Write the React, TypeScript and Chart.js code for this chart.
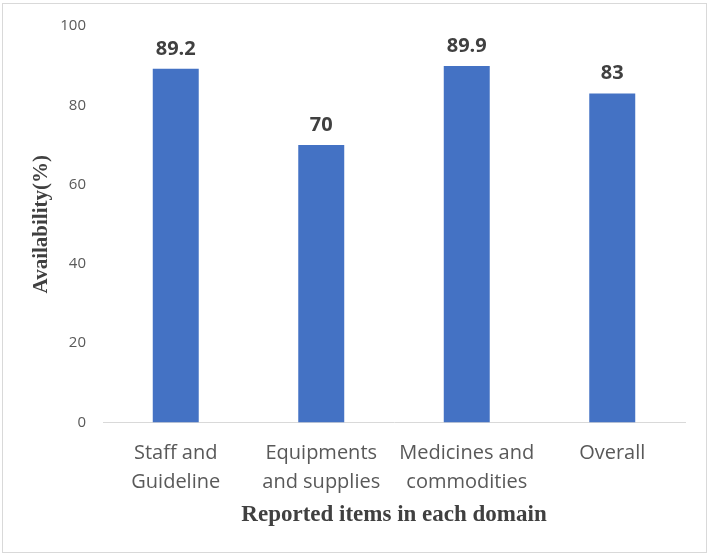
import React, { useEffect, useRef } from "react";
import { Chart, registerables } from "chart.js";

Chart.register(...registerables);

const categories: string[][] = [
  ["Staff and", "Guideline"],
  ["Equipments", "and supplies"],
  ["Medicines and", "commodities"],
  ["Overall"],
];
const availability: number[] = [89.2, 70, 89.9, 83];
const valueLabels: string[] = ["89.2", "70", "89.9", "83"];
const yTicks: number[] = [0, 20, 40, 60, 80, 100];

const dataLabelPlugin = {
  id: "dataLabels",
  afterDatasetsDraw(chart: any) {
    const { ctx } = chart;
    const meta = chart.getDatasetMeta(0);
    ctx.save();
    ctx.font = "bold 20px 'Open Sans'";
    ctx.fillStyle = "#404040";
    ctx.textAlign = "center";
    ctx.textBaseline = "alphabetic";
    meta.data.forEach((bar: any, i: number) => {
      ctx.fillText(valueLabels[i], bar.x, bar.y - 14);
    });
    ctx.restore();
  },
};

export default function App() {
  const canvasRef = useRef<HTMLCanvasElement | null>(null);

  useEffect(() => {
    if (!canvasRef.current) return;
    const chart = new Chart(canvasRef.current, {
      type: "bar",
      data: {
        labels: categories,
        datasets: [
          {
            data: availability,
            backgroundColor: "#4472C4",
            borderWidth: 0,
            barPercentage: 0.316,
            categoryPercentage: 1,
          },
        ],
      },
      options: {
        responsive: false,
        animation: false,
        layout: { padding: { left: 0, right: 23, top: 24, bottom: 0 } },
        plugins: {
          legend: { display: false },
          tooltip: { enabled: false },
        },
        scales: {
          x: {
            grid: { display: false, drawTicks: false },
            border: { display: true, color: "#d9d9d9", width: 1 },
            ticks: {
              color: "#595959",
              padding: 16,
              maxRotation: 0,
              autoSkip: false,
              font: { family: "'Open Sans'", size: 20, lineHeight: 1.45 },
            },
            title: {
              display: true,
              text: "Reported items in each domain",
              color: "#404040",
              font: { family: "'Liberation Serif'", size: 23, weight: "bold", lineHeight: 1.2 },
              padding: { top: 0, bottom: 29 },
            },
            afterFit: (s: any) => {
              s.height = 135.5;
            },
          },
          y: {
            min: 0,
            max: 100,
            afterBuildTicks: (s: any) => {
              s.ticks = yTicks.map((v) => ({ value: v }));
            },
            grid: { display: false, drawTicks: false },
            border: { display: false },
            ticks: {
              color: "#595959",
              padding: 17,
              font: { family: "'Open Sans'", size: 15 },
            },
            title: {
              display: true,
              text: "Availability(%)",
              color: "#404040",
              font: { family: "'Liberation Serif'", size: 21, weight: "bold", lineHeight: 1.2 },
              padding: { top: 29, bottom: 0 },
            },
            afterFit: (s: any) => {
              s.width = 103;
            },
          },
        },
      },
      plugins: [dataLabelPlugin],
    } as any);
    return () => chart.destroy();
  }, []);

  return (
    <div style={{ position: "fixed", left: 0, top: 0, width: 708, height: 558, background: "#fff" }}>
      <canvas ref={canvasRef} width={708} height={558} style={{ position: "absolute", left: 0, top: 0 }} />
      <div
        style={{
          position: "absolute",
          left: 2,
          top: 3,
          width: 705,
          height: 550,
          boxSizing: "border-box",
          border: "1px solid #d9d9d9",
          pointerEvents: "none",
        }}
      />
    </div>
  );
}
